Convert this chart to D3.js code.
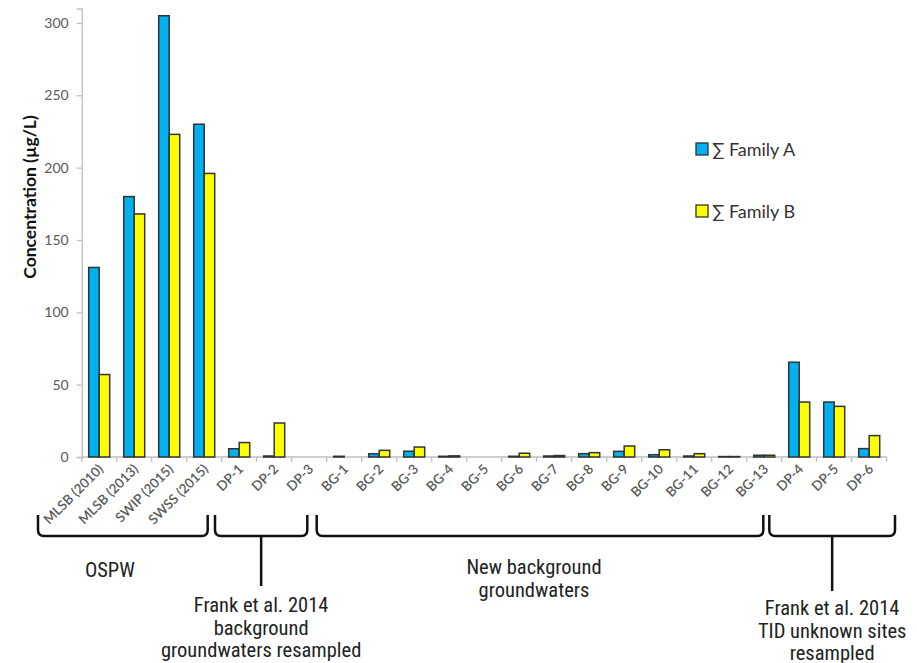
<!DOCTYPE html>
<html>
<head>
<meta charset="utf-8">
<script src="https://cdn.jsdelivr.net/npm/d3@7"></script>
<style>
  body { margin: 0; background: #fff; }
  svg { display: block; }
</style>
</head>
<body>
<div id="chart"></div>
<script>
// Sample names along the x axis
var categories = ["MLSB (2010)", "MLSB (2013)", "SWIP (2015)", "SWSS (2015)",
    "DP-1", "DP-2", "DP-3",
    "BG-1", "BG-2", "BG-3", "BG-4", "BG-5", "BG-6", "BG-7", "BG-8", "BG-9", "BG-10", "BG-11", "BG-12", "BG-13",
    "DP-4", "DP-5", "DP-6"];

// Concentrations (µg/L)
var familyA = [131, 180, 305, 230, 5.7, 0.7, 0, 0.5, 2.2, 4, 0.5, 0, 0.5, 0.7, 2.3, 3.9, 1.6, 0.7, 0.3, 1.2, 65.5, 38, 5.8];
var familyB = [57, 168, 223, 196, 10, 23.5, 0, 0, 4.6, 6.9, 0.8, 0, 2.6, 1, 3, 7.6, 5, 2.3, 0.3, 1.2, 38, 35, 14.8];

var seriesNames = ["\u2211 Family A", "\u2211 Family B"];
var yTicks = [0, 50, 100, 150, 200, 250, 300];

// Groups under the axis: first / last category index and their caption lines
var groupFirst = [0, 4, 7, 20];
var groupLast = [3, 6, 19, 22];
var groupLines = [
    ["OSPW"],
    ["Frank et al. 2014", "background", "groundwaters resampled"],
    ["New background", "groundwaters"],
    ["Frank et al. 2014", "TID unknown sites", "resampled"]
];

var width = 917, height = 663;
var plotLeft = 81.7, plotRight = 886.7, plotTop = 8.5, plotBottom = 457;

var svg = d3.select('#chart').append('svg')
    .attr('width', width)
    .attr('height', height);

var x = d3.scaleBand().domain(categories).range([plotLeft, plotRight]);
var y = d3.scaleLinear().domain([0, 310]).range([plotBottom, plotTop]);
var colors = ["#00b0f0", "#ffff00"];

// y axis
var yAxis = svg.append('g')
    .attr('transform', 'translate(' + plotLeft + ',0)')
    .call(d3.axisLeft(y).tickValues(yTicks).tickSize(5).tickPadding(8));
yAxis.select('.domain').attr('stroke', '#bfbfbf').attr('stroke-width', 1.3);
yAxis.selectAll('.tick line').attr('stroke', '#bfbfbf').attr('stroke-width', 1.3);
yAxis.selectAll('text')
    .style('font-family', 'Lato, sans-serif')
    .style('font-size', '14px')
    .style('fill', '#595959');

// x axis line and ticks at band boundaries
svg.append('line')
    .attr('x1', plotLeft).attr('x2', plotRight)
    .attr('y1', plotBottom).attr('y2', plotBottom)
    .attr('stroke', '#bfbfbf').attr('stroke-width', 1.3);
svg.selectAll('.xtick')
    .data(categories.concat(['end']))
    .enter().append('line')
    .attr('class', 'xtick')
    .attr('x1', function(d, i) { return plotLeft + i * x.bandwidth(); })
    .attr('x2', function(d, i) { return plotLeft + i * x.bandwidth(); })
    .attr('y1', plotBottom).attr('y2', plotBottom + 5)
    .attr('stroke', '#bfbfbf').attr('stroke-width', 1.3);

// bars
var barW = x.bandwidth() * 0.3;
var series = [familyA, familyB];
series.forEach(function(values, s) {
    svg.selectAll('.bar' + s)
        .data(values)
        .enter().append('rect')
        .attr('class', 'bar' + s)
        .attr('x', function(d, i) { return x(categories[i]) + x.bandwidth() / 2 - barW + s * barW; })
        .attr('y', function(d) { return y(d); })
        .attr('width', barW)
        .attr('height', function(d) { return plotBottom - y(d); })
        .attr('fill', colors[s])
        .attr('stroke', '#333')
        .attr('stroke-width', 1.5);
});

// category labels, rotated
svg.selectAll('.xlabel')
    .data(categories)
    .enter().append('text')
    .attr('class', 'xlabel')
    .attr('transform', function(d) {
        return 'translate(' + (x(d) + x.bandwidth() / 2 + 5) + ',' + (plotBottom + 13) + ') rotate(-45)';
    })
    .attr('text-anchor', 'end')
    .style('font-family', 'Lato, sans-serif')
    .style('font-size', '13.5px')
    .style('font-weight', '600')
    .style('fill', '#595959')
    .text(function(d) { return d; });

// y axis title
svg.append('text')
    .attr('transform', 'translate(36,197) rotate(-90)')
    .attr('text-anchor', 'middle')
    .style('font-family', 'Lato, sans-serif')
    .style('font-weight', 'bold')
    .style('font-size', '17.5px')
    .style('fill', '#111')
    .text('Concentration (\u00b5g/L)');

// legend
var legend = svg.selectAll('.legend')
    .data(seriesNames)
    .enter().append('g')
    .attr('class', 'legend')
    .attr('transform', function(d, i) { return 'translate(696,' + (143 + i * 62) + ')'; });
legend.append('rect')
    .attr('width', 12).attr('height', 12)
    .attr('fill', function(d, i) { return colors[i]; })
    .attr('stroke', '#333').attr('stroke-width', 1.3);
legend.append('text')
    .attr('x', 16).attr('y', 13)
    .style('font-family', 'Lato, sans-serif')
    .style('font-size', '18px')
    .style('fill', '#333')
    .text(function(d) { return d; });

// brackets under the labels (hand drawn offsets in the original)
var padLeft = [43.7, 6.7, 10, 12.4];
var padRight = [14, 19.4, 18.4, -8.3];
var bTop = 515, bBot = 536, r = 6;
var groupFont = '"Liberation Sans Narrow", "Arial Narrow", "Roboto Condensed", sans-serif';
var captionY = [577, 612, 574, 615];
var stemEnd = [0, 586, 0, 591];

groupFirst.forEach(function(first, g) {
    var x0 = x(categories[first]) - padLeft[g];
    var x1 = x(categories[groupLast[g]]) + x.bandwidth() - padRight[g];
    var mid = (x0 + x1) / 2;
    svg.append('path')
        .attr('d', 'M' + x0 + ',' + bTop + ' L' + x0 + ',' + (bBot - r) +
            ' Q' + x0 + ',' + bBot + ' ' + (x0 + r) + ',' + bBot +
            ' L' + (x1 - r) + ',' + bBot +
            ' Q' + x1 + ',' + bBot + ' ' + x1 + ',' + (bBot - r) +
            ' L' + x1 + ',' + bTop)
        .attr('fill', 'none')
        .attr('stroke', '#111')
        .attr('stroke-width', 2.5);

    if (stemEnd[g]) {
        // stem down to the caption
        svg.append('line')
            .attr('x1', mid).attr('x2', mid)
            .attr('y1', bBot).attr('y2', stemEnd[g])
            .attr('stroke', '#111').attr('stroke-width', 2.5);
    }
    var tx = g === 0 ? mid - 13 : (g === 2 ? mid - 6 : mid);
    var t = svg.append('text')
        .attr('text-anchor', 'middle')
        .style('font-family', groupFont)
        .style('font-size', '20.5px')
        .style('fill', '#222');
    groupLines[g].forEach(function(line, k) {
        t.append('tspan')
            .attr('x', tx)
            .attr('y', captionY[g] + k * 22.5)
            .text(line);
    });
});
</script>
</body>
</html>
